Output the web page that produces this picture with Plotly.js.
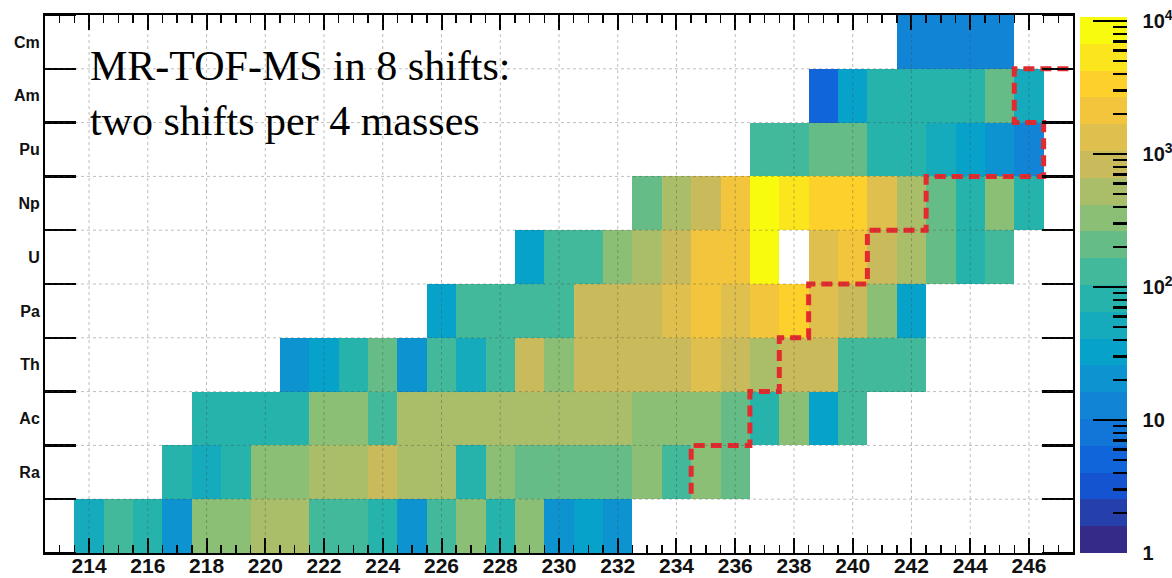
<!DOCTYPE html>
<html>
<head>
<meta charset="utf-8">
<script src="https://cdn.plot.ly/plotly-3.0.1.min.js"></script>
<style>html,body{margin:0;padding:0;background:#fff;}#chart{width:1172px;height:578px;}</style>
</head>
<body>
<div id="chart"></div>
<script>
// Row labels (bottom row has no label in the original)
const elements = ['', 'Ra', 'Ac', 'Th', 'Pa', 'U', 'Np', 'Pu', 'Am', 'Cm'];
// First mass number present in each row
const firstMass = [214, 217, 218, 221, 226, 229, 233, 237, 239, 242];
// Counts per mass, starting at firstMass (null = no data)
const countsRow0 = [55, 140, 90, 20, 300, 400, 520, 500, 150, 140, 80, 22, 160, 350, 90, 340, 22, 32, 20];
const countsRa = [85, 50, 90, 280, 300, 450, 450, 700, 480, 460, 75, 330, 250, 200, 240, 200, 300, 150, 290, 260];
const countsAc = [100, 100, 100, 95, 290, 290, 140, 420, 420, 520, 530, 520, 510, 420, 480, 300, 300, 330, 260, 90, 280, 26, 125];
const countsTh = [20, 30, 85, 170, 22, 160, 55, 150, 900, 300, 850, 820, 820, 880, 1400, 900, 620, 820, 700, 125, 110, 110];
const countsPa = [40, 145, 150, 155, 150, 850, 850, 880, 1300, 2100, 1400, 2200, 3000, 1300, 800, 360, 26];
const countsU = [30, 150, 150, 360, 500, 700, 1800, 2200, 9000, null, 1500, 2200, 800, 420, 240, 75, 105];
const countsNp = [250, 500, 780, 2300, 9500, 5500, 3500, 3400, 1300, 450, 170, 80, 290, 95];
const countsPu = [140, 140, 240, 240, 95, 95, 50, 35, 22, 16];
const countsAm = [5, 40, 95, 100, 100, 95, 200, 45];
const countsCm = [16, 11, 13, 15];
// Measurement-shift boundary (red dashed staircase): mass, row position
const stepMass = [234.5, 234.5, 236.5, 236.5, 237.5, 237.5, 238.5, 238.5, 240.5, 240.5, 242.5, 242.5, 246.5, 246.5, 245.5, 245.5, 247.5];
const stepRow  = [0.6, 1.5, 1.5, 2.5, 2.5, 3.5, 3.5, 4.5, 4.5, 5.5, 5.5, 6.5, 6.5, 7.5, 7.5, 8.5, 8.5];
// Colour bar ticks
const cbTickVals = [0, 1, 2, 3, 4];
const cbTickText = ['1', '10', '10<sup>2</sup>', '10<sup>3</sup>', '10<sup>4</sup>'];
const noteText = 'MR-TOF-MS in 8 shifts:<br>two shifts per 4 masses';

const rows = [countsRow0, countsRa, countsAc, countsTh, countsPa, countsU, countsNp, countsPu, countsAm, countsCm];
const massMin = 213, massMax = 247;
const masses = [];
for (let m = massMin; m <= massMax; m++) masses.push(m);
const z = rows.map((r, i) => masses.map(m => {
  const k = m - firstMass[i];
  if (k < 0 || k >= r.length || r[k] == null) return null;
  return Math.log10(r[k]);
}));
const zMax = 4.03;

// ROOT kBird palette, 20 discrete contours
const bird = [[0.2082,0.1664,0.5293],[0.0592,0.3599,0.8684],[0.0780,0.5041,0.8385],[0.0232,0.6419,0.7914],[0.1802,0.7178,0.6425],[0.5301,0.7492,0.4662],[0.8186,0.7328,0.3499],[0.9956,0.7862,0.1968],[0.9764,0.9832,0.0539]];
function birdAt(f) {
  const p = f * (bird.length - 1);
  const i = Math.min(Math.floor(p), bird.length - 2);
  const t = p - i;
  const c = bird[i].map((v, j) => Math.round(255 * (v + (bird[i + 1][j] - v) * t)));
  return 'rgb(' + c.join(',') + ')';
}
const nLev = 20;
const colorscale = [];
for (let i = 0; i < nLev; i++) {
  const c = birdAt(i / (nLev - 1));
  colorscale.push([i / nLev, c]);
  colorscale.push([(i + 1) / nLev, c]);
}
const minorVals = [];
for (let d = 0; d < 4; d++) for (let k = 2; k <= 9; k++) minorVals.push(d + Math.log10(k));

const L = 45, R = 1073, T = 15, B = 553;
const cbX = (1080 - L) / (R - L);
const tickFont = {family: 'Liberation Sans Narrow, Liberation Sans, Arial, sans-serif', size: 21, color: '#111', weight: 'bold'};

const heat = {
  type: 'heatmap', x: masses, y: elements.map((e, i) => i), z: z,
  zmin: 0, zmax: zMax, colorscale: colorscale, hoverinfo: 'skip',
  colorbar: {
    x: cbX, xanchor: 'left', xpad: 0, y: 0, yanchor: 'bottom', ypad: 0,
    thickness: 47, thicknessmode: 'pixels', len: 536, lenmode: 'pixels',
    tickmode: 'array', tickvals: cbTickVals, ticktext: cbTickText.map(t => '&nbsp;&nbsp;' + t),
    ticks: 'inside', ticklen: 34, tickwidth: 2.5, tickcolor: '#000',
    outlinewidth: 0, tickfont: {family: tickFont.family, size: 20, color: '#111', weight: 'bold'}
  }
};
const minorBar = {
  type: 'scatter', mode: 'markers', x: [null], y: [null], hoverinfo: 'skip', showlegend: false,
  marker: {
    color: [0], cmin: 0, cmax: zMax, opacity: 0,
    colorscale: [[0, 'rgba(0,0,0,0)'], [1, 'rgba(0,0,0,0)']], showscale: true,
    colorbar: {
      x: cbX, xanchor: 'left', xpad: 0, y: 0, yanchor: 'bottom', ypad: 0,
      thickness: 47, thicknessmode: 'pixels', len: 536, lenmode: 'pixels',
      tickmode: 'array', tickvals: minorVals, showticklabels: false,
      ticks: 'inside', ticklen: 14, tickwidth: 2.5, tickcolor: '#000', outlinewidth: 0
    }
  }
};
const steps = {
  type: 'scatter', mode: 'lines', x: stepMass, y: stepRow, hoverinfo: 'skip', showlegend: false,
  line: {color: '#e32a2e', width: 5, dash: '11px,6px'}, cliponaxis: false
};

const shapes = [];
const gridStyle = {color: 'rgba(70,70,70,0.35)', width: 1, dash: 'dot'};
for (let m = 214; m <= 246; m += 2) shapes.push({type: 'line', xref: 'x', yref: 'paper', x0: m, x1: m, y0: 0, y1: 1, line: gridStyle, layer: 'above'});
for (let i = 0; i < elements.length - 1; i++) shapes.push({type: 'line', xref: 'paper', yref: 'y', x0: 0, x1: 1, y0: i + 0.5, y1: i + 0.5, line: gridStyle, layer: 'above'});

const layout = {
  width: 1172, height: 578,
  margin: {l: L, r: 1172 - R, t: T, b: 578 - B, pad: 0, autoexpand: false},
  paper_bgcolor: '#fff', plot_bgcolor: '#fff', showlegend: false,
  xaxis: {
    range: [212.5, 247.5], tickmode: 'linear', tick0: 0, dtick: 2,
    ticks: 'inside', ticklen: 15, tickwidth: 2, tickcolor: '#000',
    showline: true, linewidth: 2, linecolor: '#000', mirror: 'ticks',
    showgrid: false, zeroline: false, layer: 'above traces', tickfont: tickFont,
    ticklabelstandoff: -7, automargin: false,
    minor: {tick0: 0, dtick: 0.5, ticks: 'inside', ticklen: 8, tickwidth: 1.5, tickcolor: '#000', showgrid: false}
  },
  yaxis: {
    range: [-0.5, 9.5], tickmode: 'array', tickvals: elements.map((e, i) => i), ticktext: elements,
    ticks: '', showline: true, linewidth: 2, linecolor: '#000', mirror: 'ticks',
    showgrid: false, zeroline: false, layer: 'above traces', automargin: false,
    tickfont: {family: tickFont.family, size: 16, color: '#111', weight: 'bold'},
    minor: {tickmode: 'linear', tick0: 0.5, dtick: 1, ticks: 'inside', ticklen: 31, tickwidth: 2.5, tickcolor: '#000', showgrid: false}
  },
  shapes: shapes,
  annotations: [{
    text: noteText, xref: 'paper', yref: 'paper', x: (88 - L) / (R - L), xanchor: 'left',
    y: (B - 93) / (B - T), yanchor: 'middle', showarrow: false, align: 'left',
    font: {family: 'Liberation Serif, Times New Roman, serif', size: 42, color: '#000'}
  }]
};
Plotly.newPlot('chart', [heat, minorBar, steps], layout, {staticPlot: true, displayModeBar: false});
</script>
</body>
</html>
